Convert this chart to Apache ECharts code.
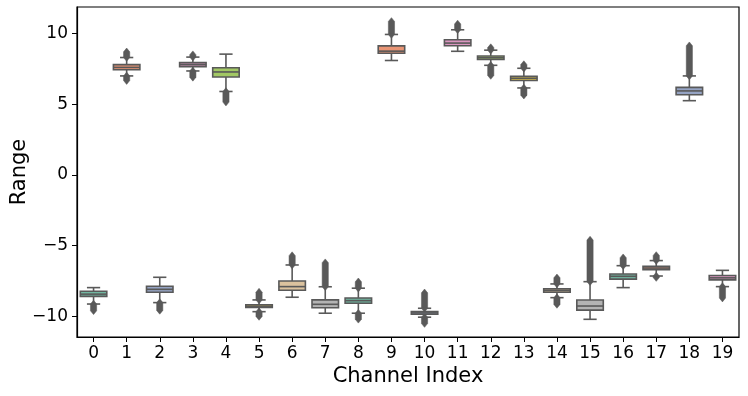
<!DOCTYPE html>
<html>
<head>
<meta charset="utf-8">
<script src="https://cdn.jsdelivr.net/npm/echarts@6/dist/echarts.min.js"></script>
<style>
html,body{margin:0;padding:0;background:#fff;}
#chart{width:748px;height:396px;}
</style>
</head>
<body>
<div id="chart"></div>
<script>
// ---- data ----
const categories = ['0','1','2','3','4','5','6','7','8','9','10','11','12','13','14','15','16','17','18','19'];
const whiskerLow  = [-9.12, 7.00, -9.02, 7.35, 5.90, -9.66, -8.64, -9.77, -9.77, 8.09, -10.05, 8.74, 7.75, 6.15, -8.67, -10.20, -7.96, -7.14, 5.25, -7.89];
const q1          = [-8.58, 7.44, -8.29, 7.66, 6.92, -9.36, -8.15, -9.38, -9.07, 8.60, -9.84, 9.13, 8.16, 6.68, -8.29, -9.55, -7.36, -6.70, 5.67, -7.41];
const median      = [-8.42, 7.60, -8.08, 7.80, 7.28, -9.27, -7.89, -9.14, -8.88, 8.75, -9.75, 9.32, 8.28, 6.83, -8.17, -9.26, -7.16, -6.58, 5.94, -7.27];
const q3          = [-8.22, 7.80, -7.86, 7.94, 7.58, -9.17, -7.49, -8.83, -8.69, 9.12, -9.66, 9.56, 8.41, 6.97, -8.05, -8.84, -7.00, -6.46, 6.19, -7.10];
const whiskerHigh = [-7.96, 8.30, -7.23, 8.33, 8.54, -8.83, -6.36, -7.90, -8.00, 9.93, -9.42, 10.26, 8.82, 7.54, -7.70, -7.54, -6.41, -6.05, 7.00, -6.74];
const outlierMin  = [-9.60, 6.67, -9.57, 6.90, 5.15, -10.00, null, null, -10.20, null, -10.50, null, 7.03, 5.64, -9.15, null, null, -7.25, null, -8.70];
const outlierMax  = [null, 8.70, null, 8.50, null, -8.28, -5.70, -6.20, -7.55, 10.85, -8.33, 10.67, 9.00, 7.80, -7.27, -4.60, -5.85, -5.69, 9.13, null];
const yTicks = [-10, -5, 0, 5, 10];
const palette = ['#71b7a1', '#e99575', '#95a3c3', '#db96c0', '#a2c864', '#e5c849', '#dbc29e', '#b3b3b3'];

const lineColor = '#595959';
const font = 'DejaVu Sans';

const seriesData = categories.map((c, i) => [i, whiskerLow[i], q1[i], median[i], q3[i], whiskerHigh[i]]);

function outlierShape(x, yStart, yEnd, hw, tip) {
  const dir = yEnd < yStart ? -1 : 1;
  const a = yStart, b = yEnd;
  return [
    [x, a - dir * tip],
    [x + hw, a],
    [x + hw, b],
    [x, b + dir * tip],
    [x - hw, b],
    [x - hw, a]
  ];
}

function renderItem(params, api) {
  const i = params.dataIndex;
  const x = api.coord([i, 0])[0];
  const bw = api.size([1, 0])[0] * 0.8;
  const yv = v => api.coord([i, v])[1];
  const yWL = yv(whiskerLow[i]), yQ1 = yv(q1[i]), yMed = yv(median[i]), yQ3 = yv(q3[i]), yWH = yv(whiskerHigh[i]);
  const fill = palette[i % palette.length];
  const children = [];
  const hw = 3.1, tip = 3.8;
  if (outlierMax[i] !== null) {
    children.push({type: 'polygon', shape: {points: outlierShape(x, yWH, yv(outlierMax[i]), hw, tip)}, style: {fill: lineColor, stroke: lineColor, lineWidth: 0.5}});
  }
  if (outlierMin[i] !== null) {
    children.push({type: 'polygon', shape: {points: outlierShape(x, yWL, yv(outlierMin[i]), hw, tip)}, style: {fill: lineColor, stroke: lineColor, lineWidth: 0.5}});
  }
  const ls = {stroke: lineColor, lineWidth: 1.6};
  children.push({type: 'line', shape: {x1: x, y1: yQ3, x2: x, y2: yWH}, style: ls});
  children.push({type: 'line', shape: {x1: x, y1: yQ1, x2: x, y2: yWL}, style: ls});
  children.push({type: 'line', shape: {x1: x - bw / 4, y1: yWH, x2: x + bw / 4, y2: yWH}, style: ls});
  children.push({type: 'line', shape: {x1: x - bw / 4, y1: yWL, x2: x + bw / 4, y2: yWL}, style: ls});
  children.push({type: 'rect', shape: {x: x - bw / 2, y: yQ3, width: bw, height: yQ1 - yQ3}, style: {fill: fill, stroke: lineColor, lineWidth: 1.6}});
  children.push({type: 'line', shape: {x1: x - bw / 2, y1: yMed, x2: x + bw / 2, y2: yMed}, style: ls});
  return {type: 'group', children: children};
}

const chart = echarts.init(document.getElementById('chart'), null, {renderer: 'canvas'});
chart.setOption({
  animation: false,
  backgroundColor: '#fff',
  textStyle: {fontFamily: font},
  grid: {left: 77, right: 9, top: 7, bottom: 59, containLabel: false, outerBoundsMode: 'none',
    show: true, borderColor: '#000', borderWidth: 1.2, backgroundColor: 'transparent'},
  xAxis: {
    type: 'category',
    data: categories,
    boundaryGap: true,
    axisLine: {show: true, onZero: false, lineStyle: {color: '#000', width: 1.2}},
    axisTick: {show: true, alignWithLabel: true, length: 5, lineStyle: {color: '#000', width: 1}},
    axisLabel: {color: '#000', fontSize: 17, fontFamily: font, margin: 8},
    splitLine: {show: false},
    name: 'Channel Index',
    nameLocation: 'middle',
    nameGap: 29,
    nameMoveOverlap: false,
    nameTextStyle: {color: '#000', fontSize: 21, fontFamily: font}
  },
  yAxis: {
    type: 'value',
    min: -11.45,
    max: 11.87,
    axisLine: {show: true, onZero: false, lineStyle: {color: '#000', width: 1.2}},
    axisTick: {show: true, length: 5, lineStyle: {color: '#000', width: 1}, customValues: yTicks},
    axisLabel: {color: '#000', fontSize: 17, fontFamily: font, margin: 9, customValues: yTicks,
      formatter: v => (v < 0 ? '\u2212' + Math.abs(v) : String(v))},
    splitLine: {show: false},
    name: 'Range',
    nameLocation: 'middle',
    nameGap: 47,
    nameMoveOverlap: false,
    nameTextStyle: {color: '#000', fontSize: 21, fontFamily: font}
  },
  series: [{
    type: 'custom',
    renderItem: renderItem,
    data: seriesData,
    encode: {x: 0, y: [1, 2, 3, 4, 5]},
    clip: false
  }]
});
</script>
</body>
</html>
